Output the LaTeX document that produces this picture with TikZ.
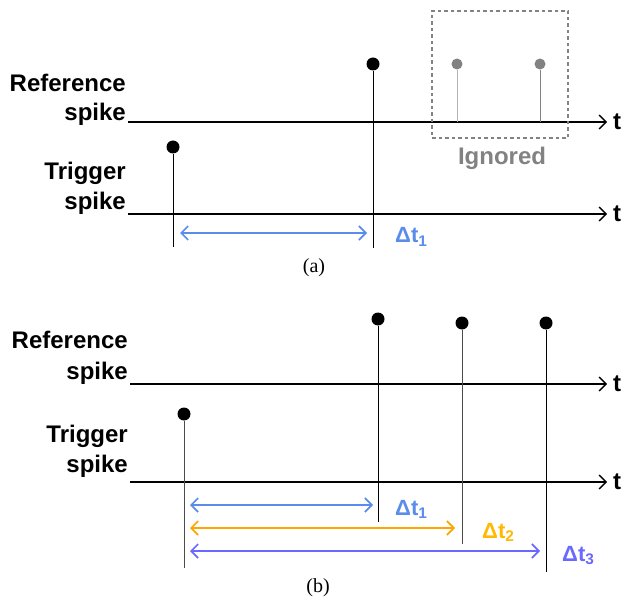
\documentclass[tikz,border=0pt]{standalone}
\usepackage{fontspec}
\setmainfont{Liberation Serif}
\newfontfamily\labelfont{Liberation Sans}
\usetikzlibrary{arrows.meta,positioning}
\definecolor{dtone}{RGB}{90,140,235}
\definecolor{dttwo}{RGB}{255,165,0}
\definecolor{dttwotext}{RGB}{255,185,0}
\definecolor{dtthree}{RGB}{105,105,255}
\definecolor{ignoredgray}{RGB}{130,130,130}
\tikzset{
  axis/.style={line width=1.3pt, -{Straight Barb[length=7pt,width=14pt,line width=1.3pt]}},
  spikeline/.style={line width=0.9pt},
  spikedot/.style={circle, fill, inner sep=0pt, minimum size=13pt},
  rowlabel/.style={font=\labelfont\bfseries\fontsize{24}{28}\selectfont, anchor=base east, inner sep=0pt},
  tlabel/.style={font=\labelfont\bfseries\fontsize{24}{28}\selectfont, anchor=west, inner sep=0pt},
  dtarrow/.style={line width=1.6pt, {Straight Barb[length=7pt,width=14pt,line width=1.6pt]}-{Straight Barb[length=7pt,width=14pt,line width=1.6pt]}},
  dtlabel/.style={font=\labelfont\bfseries\fontsize{22}{26}\selectfont, anchor=base west, inner sep=0pt},
  caption/.style={font=\fontsize{20}{24}\selectfont, inner sep=0pt}
}
\begin{document}
\begin{tikzpicture}[x=1pt, y=-1pt]
\useasboundingbox (0,0) rectangle (627,599);
% (a)
\node[rowlabel] (refa1) at (126,92) {Reference};
\node[rowlabel] (refa2) at (126,121) {spike};
\node[rowlabel] (trga1) at (126,180) {Trigger};
\node[rowlabel] (trga2) at (126,209) {spike};
\coordinate (refa0) at (128,122);
\coordinate (refat) at (607,122);
\coordinate (trga0) at (128,214);
\coordinate (trgat) at (607,214);
\draw[axis] (refa0) -- (refat);
\draw[axis] (trga0) -- (trgat);
\node[tlabel] (ta1) at (613,122) {t};
\node[tlabel] (ta2) at (613,214) {t};

\node[spikedot] (sa1) at (173,147) {};
\coordinate (sa1b) at (173,247);
\draw[spikeline] (sa1) -- (sa1b);
\node[spikedot] (sa2) at (373,64) {};
\coordinate (sa2b) at (373,248);
\draw[spikeline] (sa2) -- (sa2b);

\node[spikedot, ignoredgray, minimum size=11pt] (ia1) at (457,64) {};
\coordinate (ia1b) at (457,122);
\draw[spikeline, gray!60] (ia1) -- (ia1b);
\node[spikedot, ignoredgray, minimum size=11pt] (ia2) at (540,64) {};
\coordinate (ia2b) at (540,122);
\draw[spikeline, ignoredgray] (ia2) -- (ia2b);
\node[draw=ignoredgray, line width=1.8pt, dash pattern=on 3.5pt off 3pt, minimum width=136pt, minimum height=127pt, inner sep=0pt] (ignbox) at (500,74.5) {};
\node[font=\labelfont\bfseries\fontsize{24}{28}\selectfont, text=ignoredgray, inner sep=0pt] (ign) at (502,158) {Ignored};

\coordinate (da0) at (180,233);
\coordinate (da1) at (367,233);
\draw[dtarrow, dtone] (da0) -- (da1);
\node[dtlabel, text=dtone] (dta1) at (395,243) {Δt\textsubscript{1}};
\node[caption] (capa) at (314,268) {(a)};

% (b)
\node[rowlabel] (refb1) at (128,348) {Reference};
\node[rowlabel] (refb2) at (128,379) {spike};
\node[rowlabel] (trgb1) at (128,442) {Trigger};
\node[rowlabel] (trgb2) at (128,472) {spike};
\coordinate (refb0) at (130,384);
\coordinate (refbt) at (607,384);
\coordinate (trgb0) at (130,482);
\coordinate (trgbt) at (607,482);
\draw[axis] (refb0) -- (refbt);
\draw[axis] (trgb0) -- (trgbt);
\node[tlabel] (tb1) at (613,384) {t};
\node[tlabel] (tb2) at (613,482) {t};

\node[spikedot] (sb0) at (184,414) {};
\coordinate (sb0b) at (184,568);
\draw[spikeline, black!70] (sb0) -- (sb0b);
\node[spikedot] (sb1) at (378,319) {};
\coordinate (sb1b) at (378,522);
\draw[spikeline] (sb1) -- (sb1b);
\node[spikedot] (sb2) at (462,323) {};
\coordinate (sb2b) at (462,544);
\draw[spikeline, black!70] (sb2) -- (sb2b);
\node[spikedot] (sb3) at (546,323) {};
\coordinate (sb3b) at (546,572);
\draw[spikeline] (sb3) -- (sb3b);

\coordinate (db1a) at (190,505);
\coordinate (db1b) at (373,505);
\draw[dtarrow, dtone] (db1a) -- (db1b);
\node[dtlabel, text=dtone] (dtb1) at (395,515) {Δt\textsubscript{1}};
\coordinate (db2a) at (190,528);
\coordinate (db2b) at (455,528);
\draw[dtarrow, dttwo] (db2a) -- (db2b);
\node[dtlabel, text=dttwotext] (dtb2) at (482,538) {Δt\textsubscript{2}};
\coordinate (db3a) at (190,551);
\coordinate (db3b) at (540,551);
\draw[dtarrow, dtthree] (db3a) -- (db3b);
\node[dtlabel, text=dtthree] (dtb3) at (562,561) {Δt\textsubscript{3}};
\node[caption] (capb) at (318,588) {(b)};
\end{tikzpicture}
\end{document}
